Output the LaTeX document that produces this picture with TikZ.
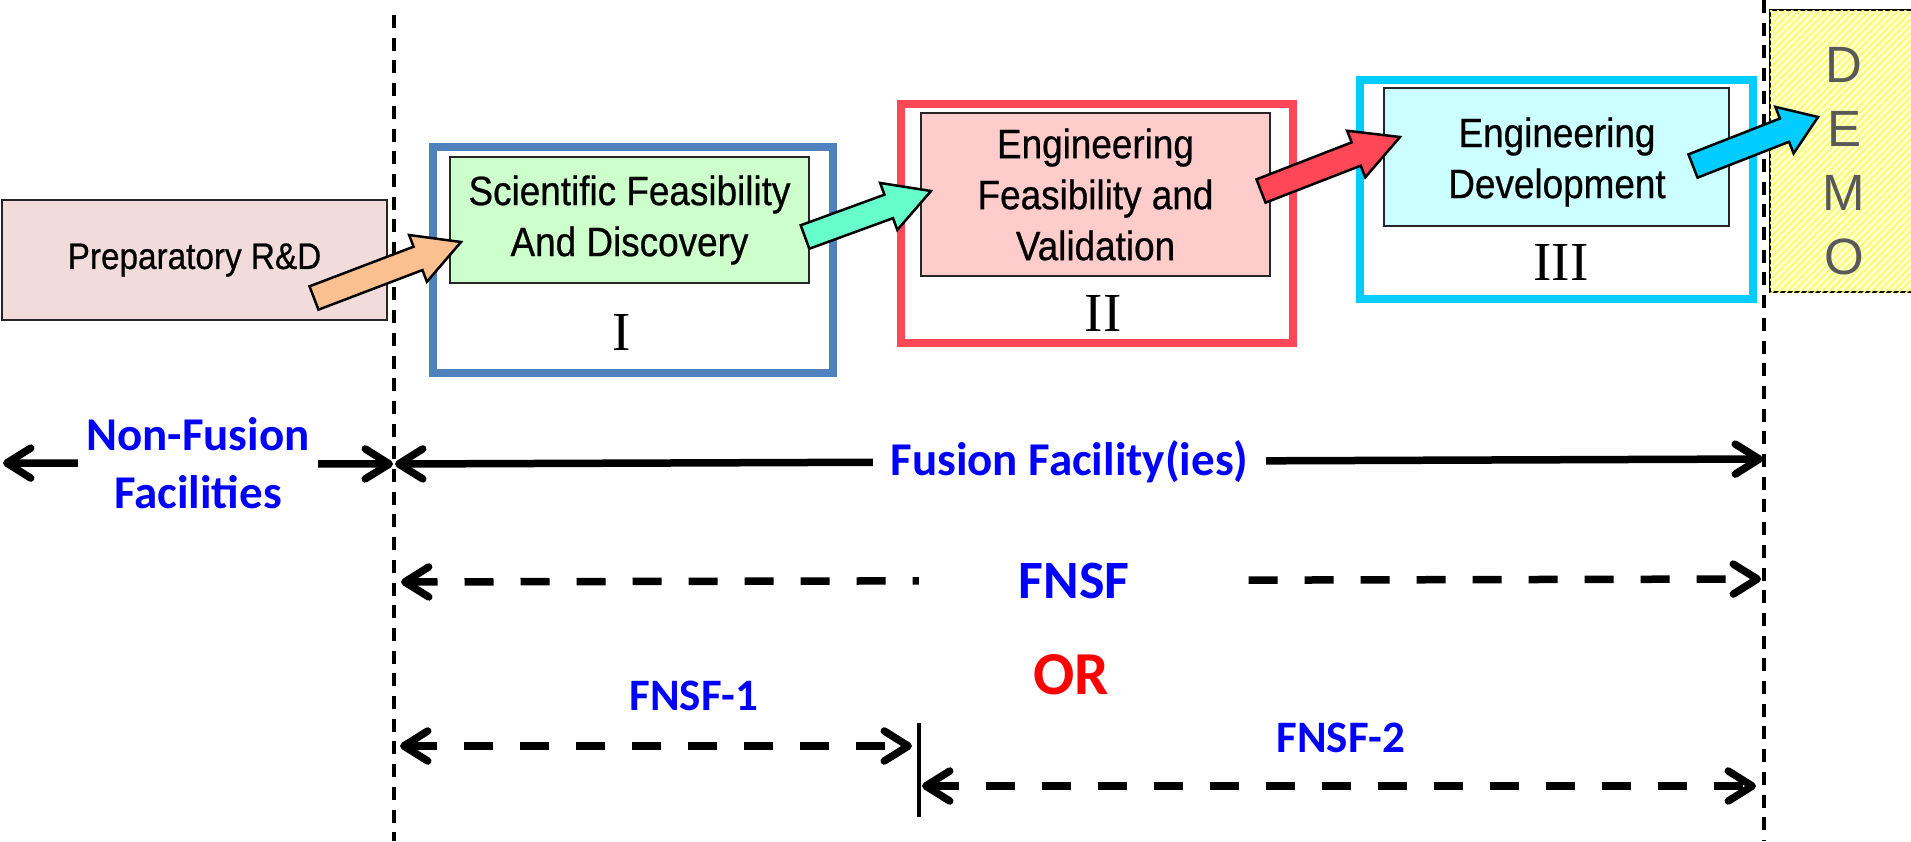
\documentclass[tikz,border=0pt]{standalone}
\usepackage{fontspec}
\setmainfont{Liberation Sans}
\newfontfamily\narfont[FakeStretch=0.9,FakeBold=0.6]{Liberation Sans}
\newfontfamily\calfont{Carlito}
\newfontfamily\tmsfont{Liberation Serif}
\usetikzlibrary{arrows.meta,calc,patterns.meta}
\definecolor{prepfill}{HTML}{F2DCDB}
\definecolor{sfdfill}{HTML}{CCFFCC}
\definecolor{efvfill}{HTML}{FFCCCC}
\definecolor{edfill}{HTML}{CCFFFF}
\definecolor{blueframe}{HTML}{4F81BD}
\definecolor{redframe}{HTML}{FF4757}
\definecolor{cyanframe}{HTML}{00CCFF}
\definecolor{orangearr}{HTML}{FAC090}
\definecolor{mintarr}{HTML}{66FFCC}
\definecolor{demogray}{HTML}{595959}
\definecolor{demofill}{HTML}{FFFFD8}
\definecolor{demoline}{HTML}{FFFF55}
\definecolor{labblue}{HTML}{0000FF}
\definecolor{orred}{HTML}{FF0000}
% #1 start, #2 end, #3 fill, #4 head length
\newcommand\blockarrow[4]{%
  \coordinate (#1h) at ($(#2)!#4!(#1)$);
  \filldraw[blockarr, fill=#3]
    ($(#1)!12.5pt!90:(#2)$) -- ($(#1h)!12.5pt!90:(#2)$) -- ($(#1h)!25pt!90:(#2)$)
    -- (#2) -- ($(#1h)!25pt!-90:(#2)$) -- ($(#1h)!12.5pt!-90:(#2)$)
    -- ($(#1)!12.5pt!-90:(#2)$) -- cycle;
}
\begin{document}
\begin{tikzpicture}[x=1pt,y=-1pt,
  stdbox/.style={draw=black!85, line width=2pt, align=center, inner sep=0pt,
    font=\narfont\fontsize{41}{51}\selectfont},
  framebox/.style={draw=#1, line width=8pt, inner sep=0pt},
  roman/.style={font=\tmsfont\fontsize{55}{55}\selectfont, inner sep=0pt},
  blockarr/.style={draw=black, line width=2.5pt, line join=miter},
  vdash/.style={line width=3.3pt, dash pattern=on 13pt off 9.7pt},
  span/.style={line width=7.5pt,
    {Straight Barb[length=24pt,width=30pt,round]}-{Straight Barb[length=24pt,width=30pt,round]}},
  dspan/.style={span, dash pattern=on 29pt off 27pt},
  lab/.style={text=labblue, font=\calfont\bfseries\fontsize{47}{58}\selectfont, align=center},
  demobox/.style={draw=black, line width=2pt, fill=demofill,
    postaction={pattern={Lines[angle=45,distance=5pt,line width=1.6pt]}, pattern color=demoline}},
]
\useasboundingbox (0,0) rectangle (1911,841);
% vertical dashed separators
\coordinate (v1t) at (394,15); \coordinate (v1b) at (394,841);
\coordinate (v2t) at (1764,0); \coordinate (v2b) at (1764,841);
\draw[vdash] (v1t) -- (v1b);
\draw[vdash] (v2t) -- (v2b);
% boxes
\node[stdbox, fill=prepfill, minimum width=385pt, minimum height=120pt,
  font=\narfont\fontsize{37}{45}\selectfont] (prep) at (194.5,260) {Preparatory R\&D};
\node[framebox=blueframe, minimum width=400pt, minimum height=226pt] (fr1) at (633,260) {};
\node[stdbox, fill=sfdfill, minimum width=359pt, minimum height=126pt] (sfd) at (629.5,220)
  {Scientific Feasibility\\And Discovery};
\node[roman] (r1) at (622,332) {I};
\node[framebox=redframe, minimum width=392pt, minimum height=239pt] (fr2) at (1097,223.5) {};
\node[stdbox, fill=efvfill, minimum width=349pt, minimum height=163pt] (efv) at (1095.5,194.5)
  {Engineering\\Feasibility and\\Validation};
\node[roman] (r2) at (1103,313) {II};
\node[framebox=cyanframe, minimum width=393pt, minimum height=219pt] (fr3) at (1556.5,189.5) {};
\node[stdbox, fill=edfill, minimum width=345pt, minimum height=138pt] (ed) at (1556.5,157) {};
\node[align=center, inner sep=0pt, font=\narfont\fontsize{41}{51}\selectfont]
  (edtext) at (1557,162) {Engineering\\Development};
\node[roman] (r3) at (1561,262.5) {III};
\node[demobox, minimum width=145pt, minimum height=282pt] (demo) at (1842.5,151) {};
\node[text=demogray, font=\fontsize{51}{64}\selectfont, align=center, inner sep=0pt]
  (demotext) at (1844,161) {D\\E\\M\\O};
% block arrows
\coordinate (a1s) at (314,298); \coordinate (a1e) at (461,242);
\coordinate (a2s) at (805,237); \coordinate (a2e) at (931,191);
\coordinate (a3s) at (1261,191); \coordinate (a3e) at (1400,137);
\coordinate (a4s) at (1693,166); \coordinate (a4e) at (1818,117);
\blockarrow{a1s}{a1e}{orangearr}{46pt}
\blockarrow{a2s}{a2e}{mintarr}{45pt}
\blockarrow{a3s}{a3e}{redframe}{47pt}
\blockarrow{a4s}{a4e}{cyanframe}{36pt}
% spans
\coordinate (nfL) at (3,463); \coordinate (nfR) at (393,464);
\draw[span] (nfL) -- node[lab, fill=white, inner xsep=8pt, inner ysep=0pt] (nftext)
  {Non-Fusion\\Facilities} (nfR);
\coordinate (ffL) at (395,464); \coordinate (ffR) at (1763,459);
\draw[span] (ffL) -- node[pos=0.493, lab, fill=white, inner xsep=18pt] (fftext)
  {Fusion Facility(ies)} (ffR);
\coordinate (fnL) at (401,582); \coordinate (fnR) at (1761,579);
\draw[dspan] (fnL) -- node[pos=0.495, lab, font=\calfont\bfseries\fontsize{54}{60}\selectfont,
  fill=white, inner xsep=100pt] (fnsf) {FNSF} (fnR);
\node[text=orred, font=\calfont\bfseries\fontsize{61}{66}\selectfont] (or) at (1071,675) {OR};
\node[lab, font=\calfont\bfseries\fontsize{45}{50}\selectfont] (f1text) at (694,696) {FNSF-1};
\coordinate (f1L) at (400,746); \coordinate (f1R) at (912,746);
\draw[dspan] (f1L) -- (f1R);
\coordinate (barT) at (919,723); \coordinate (barB) at (919,817);
\draw[line width=4pt] (barT) -- (barB);
\node[lab, font=\calfont\bfseries\fontsize{45}{50}\selectfont] (f2text) at (1341,738) {FNSF-2};
\coordinate (f2L) at (922,786); \coordinate (f2R) at (1756,786);
\draw[dspan] (f2L) -- (f2R);
\end{tikzpicture}
\end{document}
